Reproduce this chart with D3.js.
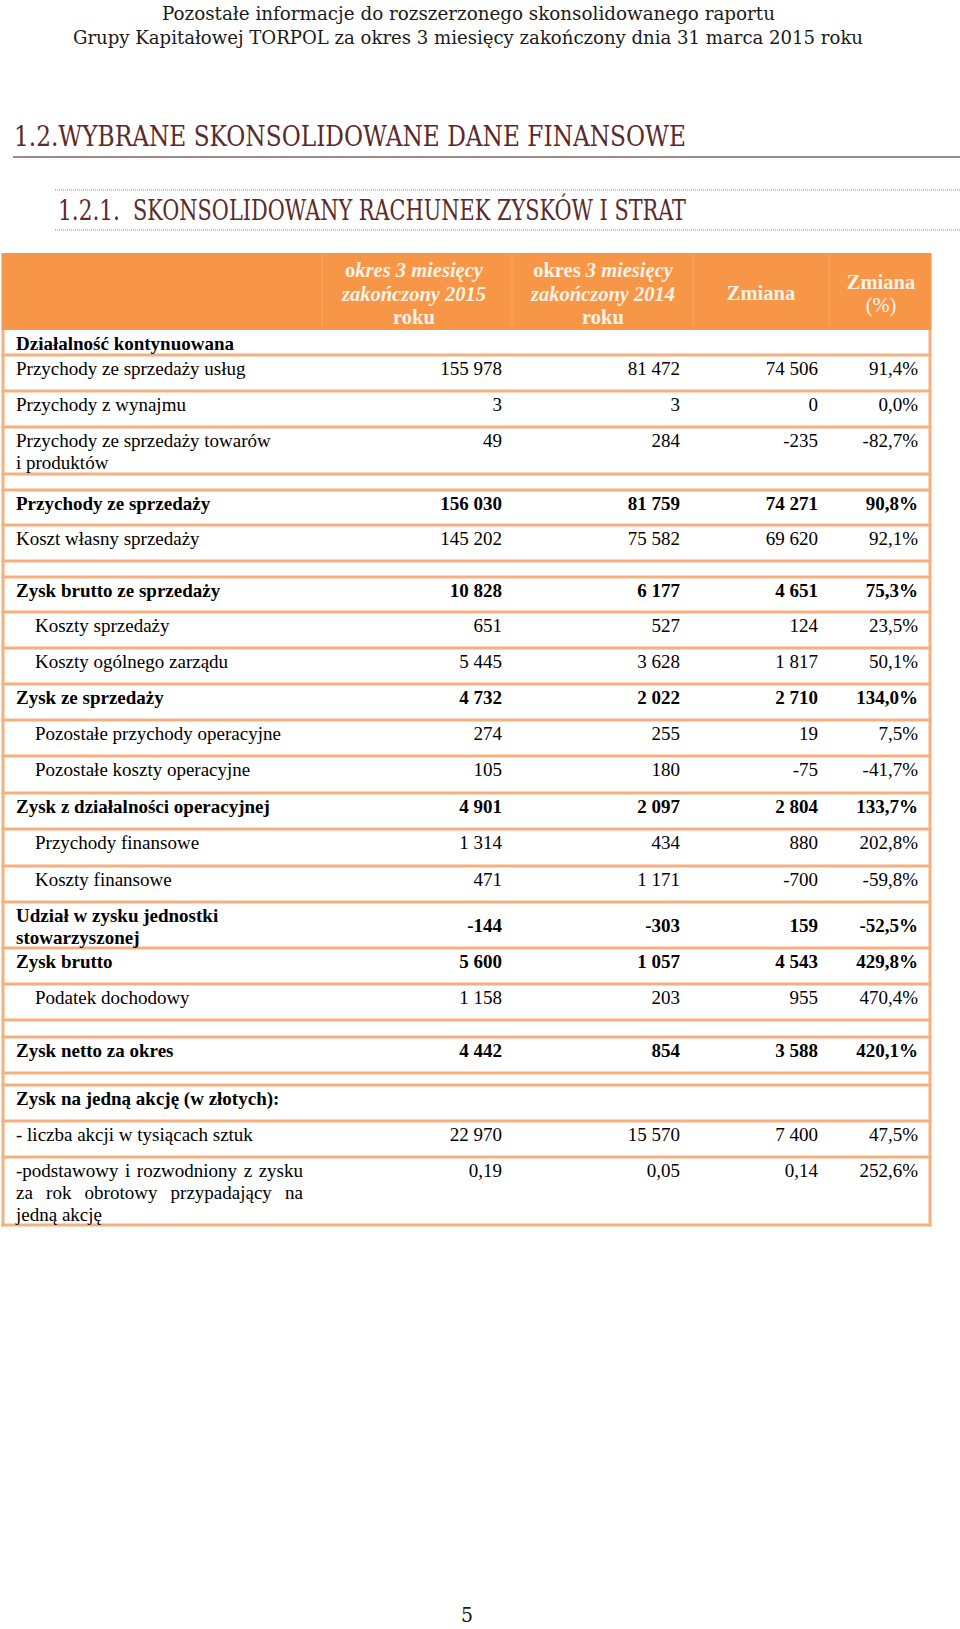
<!DOCTYPE html>
<html><head><meta charset="utf-8">
<script src="https://cdn.jsdelivr.net/npm/d3@7"></script>
<style>body{margin:0;background:#fff}svg{display:block}</style></head>
<body><svg id="c" width="960" height="1629"></svg>
<script>
// ---------- data ----------
const pageTitle = ["Pozostałe informacje do rozszerzonego skonsolidowanego raportu",
  "Grupy Kapitałowej TORPOL za okres 3 miesięcy zakończony dnia 31 marca 2015 roku"];
const sectionTitle = "1.2.WYBRANE SKONSOLIDOWANE DANE FINANSOWE";
const subNumber = "1.2.1.";
const subTitle = "SKONSOLIDOWANY RACHUNEK ZYSKÓW I STRAT";
const pageNumber = "5";

const columnKeys = ["y2015", "y2014", "chg", "pct"];
const columnHeaders = [
  ["okres 3 miesięcy", "zakończony 2015", "roku"],
  ["okres 3 miesięcy", "zakończony 2014", "roku"],
  ["Zmiana"],
  ["Zmiana", "(%)"]
];

const rowLabels = [
  ["Działalność kontynuowana"],
  ["Przychody ze sprzedaży usług"],
  ["Przychody z wynajmu"],
  ["Przychody ze sprzedaży towarów", "i produktów"],
  [],
  ["Przychody ze sprzedaży"],
  ["Koszt własny sprzedaży"],
  [],
  ["Zysk brutto ze sprzedaży"],
  ["Koszty sprzedaży"],
  ["Koszty ogólnego zarządu"],
  ["Zysk ze sprzedaży"],
  ["Pozostałe przychody operacyjne"],
  ["Pozostałe koszty operacyjne"],
  ["Zysk z działalności operacyjnej"],
  ["Przychody finansowe"],
  ["Koszty finansowe"],
  ["Udział w zysku jednostki", "stowarzyszonej"],
  ["Zysk brutto"],
  ["Podatek dochodowy"],
  [],
  ["Zysk netto za okres"],
  [],
  ["Zysk na jedną akcję (w złotych):"],
  ["- liczba akcji w tysiącach sztuk"],
  ["-podstawowy i rozwodniony z zysku", "za rok obrotowy przypadający na", "jedną akcję"]
];
const values2015 = [null,155978,3,49,null,156030,145202,null,10828,651,5445,4732,274,105,4901,1314,471,-144,5600,1158,null,4442,null,null,22970,0.19];
const values2014 = [null,81472,3,284,null,81759,75582,null,6177,527,3628,2022,255,180,2097,434,1171,-303,1057,203,null,854,null,null,15570,0.05];
const valuesChange = [null,74506,0,-235,null,74271,69620,null,4651,124,1817,2710,19,-75,2804,880,-700,159,4543,955,null,3588,null,null,7400,0.14];
const valuesChangePct = [null,91.4,0.0,-82.7,null,90.8,92.1,null,75.3,23.5,50.1,134.0,7.5,-41.7,133.7,202.8,-59.8,-52.5,429.8,470.4,null,420.1,null,null,47.5,252.6];

// ---------- layout / style (kept apart from data) ----------
const boldRows = [0,5,8,11,14,17,18,21,23];
const indentRows = [9,10,12,13,15,16,19];
const centeredValueRows = [17];
const justifiedRows = [25];
const rowHeights = [25,36,36,47,16,35,36,16,35,36,36,36,36,37,36,37,36,46,36,36,17,36,12,36,36,68];

const ORANGE = "#F79646", LINE = "#F5B07E", HEAD_TXT = "#FFF3E8";
const SERIF = "'Liberation Serif','Times New Roman',serif";
const TITLE = "'DejaVu Serif Condensed','DejaVu Serif',serif";

const loc = d3.formatLocale({decimal: ",", thousands: " ", grouping: [3], currency: ["", ""], minus: "-"});
const fInt = loc.format(",d"), fDec = loc.format(",.2f"), fPct = loc.format(",.1f");
const fmtVal = v => v == null ? "" : (Number.isInteger(v) ? fInt(v) : fDec(v));
const fmtPct = v => v == null ? "" : fPct(v) + "%";

const svg = d3.select("#c");

// ---------- page titles ----------
const tg = svg.append("g").attr("font-family", TITLE);
tg.append("text").attr("x", 162).attr("y", 20).attr("font-size", 19).attr("fill", "#1a1a1a")
  .attr("textLength", 613).attr("lengthAdjust", "spacingAndGlyphs").text(pageTitle[0]);
tg.append("text").attr("x", 73).attr("y", 44).attr("font-size", 19).attr("fill", "#1a1a1a")
  .attr("textLength", 790).attr("lengthAdjust", "spacingAndGlyphs").text(pageTitle[1]);

tg.append("text").attr("x", 14).attr("y", 146).attr("font-size", 28).attr("fill", "#5c2a2a")
  .attr("textLength", 672).attr("lengthAdjust", "spacingAndGlyphs").text(sectionTitle);
svg.append("line").attr("x1", 13).attr("x2", 960).attr("y1", 157).attr("y2", 157)
  .attr("stroke", "#7d6464").attr("stroke-width", 1.5);

[190, 230].forEach(y => svg.append("line").attr("x1", 55).attr("x2", 960).attr("y1", y).attr("y2", y)
  .attr("stroke", "#8c8c8c").attr("stroke-width", 1).attr("stroke-dasharray", "1,1"));
tg.append("text").attr("x", 58).attr("y", 220).attr("font-size", 28).attr("fill", "#5c2a2a")
  .attr("textLength", 62).attr("lengthAdjust", "spacingAndGlyphs").text(subNumber);
tg.append("text").attr("x", 133).attr("y", 220).attr("font-size", 28).attr("fill", "#5c2a2a")
  .attr("textLength", 553).attr("lengthAdjust", "spacingAndGlyphs").text(subTitle);

// ---------- table ----------
const tableTop = 330, headTop = 253, xL = 3, xR = 930;
const tops = [tableTop, ...Array.from(d3.cumsum(rowHeights), v => tableTop + v)];
const y = d3.scaleOrdinal().domain(d3.range(rowLabels.length)).range(tops.slice(0, -1));
const colRight = d3.scaleOrdinal().domain(columnKeys).range([502, 680, 818, 918]);
const colCenter = d3.scaleOrdinal().domain(columnKeys).range([414, 603, 761, 881]);
const colSep = [322, 512, 693, 829];

// header band
svg.append("rect").attr("x", xL - 1.5).attr("y", headTop).attr("width", xR - xL + 3).attr("height", tableTop - headTop)
  .attr("fill", ORANGE);
svg.selectAll(".hsep").data(colSep).join("line").attr("class", "hsep")
  .attr("x1", d => d).attr("x2", d => d).attr("y1", headTop).attr("y2", tableTop)
  .attr("stroke", "#F9A468").attr("stroke-width", 1);

const hg = svg.append("g").attr("font-family", SERIF).attr("font-size", 20.5).attr("fill", HEAD_TXT)
  .attr("text-anchor", "middle").attr("font-weight", "bold");
columnHeaders.forEach((lines, ci) => {
  const key = columnKeys[ci];
  const y0 = lines.length === 3 ? 277 : lines.length === 2 ? 288.5 : 299.5;
  lines.forEach((ln, li) => {
    const t = hg.append("text").attr("x", colCenter(key)).attr("y", y0 + li * 23.5);
    if (ci < 2 && li === 0) {
      // first letters upright, remainder italic
      const cut = ci === 0 ? 1 : 6;
      t.append("tspan").text(ln.slice(0, cut));
      t.append("tspan").attr("font-style", "italic").text(ln.slice(cut));
    } else if (ci < 2 && li === 1) {
      t.attr("font-style", "italic").text(ln);
    } else if (ci === 3 && li === 1) {
      t.attr("font-weight", "normal").text(ln);
    } else {
      t.text(ln);
    }
  });
});

// row lines
svg.selectAll(".rline").data(tops.slice(1)).join("line").attr("class", "rline")
  .attr("x1", xL - 1.5).attr("x2", xR + 1.5).attr("y1", d => d).attr("y2", d => d)
  .attr("stroke", LINE).attr("stroke-width", 3);
[xL, xR].forEach(x => svg.append("line").attr("x1", x).attr("x2", x).attr("y1", tableTop).attr("y2", tops[tops.length - 1] + 1.5)
  .attr("stroke", LINE).attr("stroke-width", 3));

// body text
const bg = svg.append("g").attr("font-family", SERIF).attr("font-size", 19).attr("fill", "#000");
const LH = 22;
const rows = rowLabels.map((lab, i) => ({i, lab, v: [values2015[i], values2014[i], valuesChange[i], valuesChangePct[i]]}));
rows.forEach(r => {
  const bold = boldRows.includes(r.i);
  const x0 = indentRows.includes(r.i) ? 35 : 16;
  const base = y(r.i) + 20;
  const justifyW = 303 - 16;
  r.lab.forEach((ln, li) => {
    const yy = base + li * LH;
    if (justifiedRows.includes(r.i) && li < r.lab.length - 1) {
      const words = ln.split(" ");
      const ws = words.map(w => {
        const t = bg.append("text").attr("x", 0).attr("y", yy).text(w);
        return {t, w: t.node().getComputedTextLength()};
      });
      const gap = (justifyW - d3.sum(ws, d => d.w)) / (ws.length - 1);
      let cx = x0;
      ws.forEach(d => { d.t.attr("x", cx); cx += d.w + gap; });
    } else {
      bg.append("text").attr("x", x0).attr("y", yy).attr("font-weight", bold ? "bold" : null).text(ln);
    }
  });
  const vy = centeredValueRows.includes(r.i) ? y(r.i) + rowHeights[r.i] / 2 + 6.5 : base;
  r.v.forEach((v, ci) => {
    const s = ci === 3 ? fmtPct(v) : fmtVal(v);
    if (!s) return;
    bg.append("text").attr("x", colRight(columnKeys[ci])).attr("y", vy).attr("text-anchor", "end")
      .attr("font-weight", bold ? "bold" : null).text(s);
  });
});

// page number
svg.append("text").attr("x", 467).attr("y", 1622).attr("text-anchor", "middle")
  .attr("font-family", TITLE).attr("font-size", 21).attr("fill", "#1a1a1a").text(pageNumber);
</script></body></html>
